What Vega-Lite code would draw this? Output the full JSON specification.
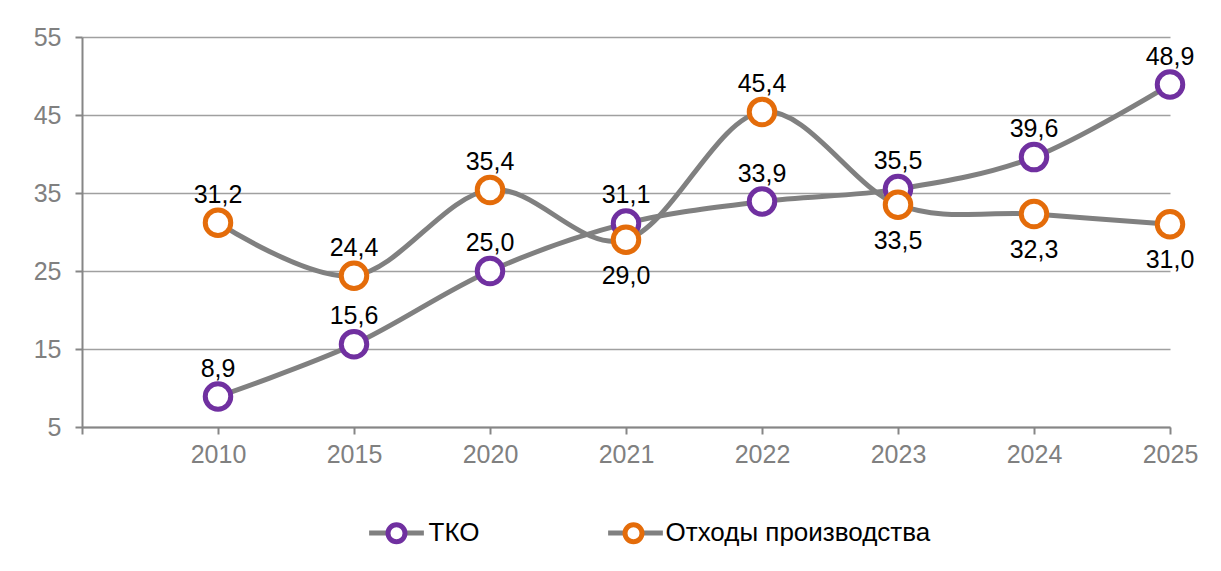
{
  "$schema": "https://vega.github.io/schema/vega-lite/v6.json",
  "width": 1088,
  "height": 390,
  "autosize": {"type": "none"},
  "padding": {"left": 82, "top": 37, "right": 51, "bottom": 144},
  "background": "white",
  "data": {
    "values": [
      {"year": "2010", "series": "ТКО", "value": 8.9},
      {"year": "2015", "series": "ТКО", "value": 15.6},
      {"year": "2020", "series": "ТКО", "value": 25.0},
      {"year": "2021", "series": "ТКО", "value": 31.1},
      {"year": "2022", "series": "ТКО", "value": 33.9},
      {"year": "2023", "series": "ТКО", "value": 35.5},
      {"year": "2024", "series": "ТКО", "value": 39.6},
      {"year": "2025", "series": "ТКО", "value": 48.9},
      {"year": "2010", "series": "Отходы производства", "value": 31.2},
      {"year": "2015", "series": "Отходы производства", "value": 24.4},
      {"year": "2020", "series": "Отходы производства", "value": 35.4},
      {"year": "2021", "series": "Отходы производства", "value": 29.0},
      {"year": "2022", "series": "Отходы производства", "value": 45.4},
      {"year": "2023", "series": "Отходы производства", "value": 33.5},
      {"year": "2024", "series": "Отходы производства", "value": 32.3},
      {"year": "2025", "series": "Отходы производства", "value": 31.0}
    ]
  },
  "encoding": {
    "x": {
      "field": "year",
      "type": "ordinal",
      "scale": {"type": "point", "domain": [" ", "2010", "2015", "2020", "2021", "2022", "2023", "2024", "2025"], "padding": 0},
      "axis": {
        "title": null,
        "labelAngle": 0,
        "grid": false,
        "domainColor": "#868686",
        "domainWidth": 2,
        "tickColor": "#868686",
        "tickWidth": 2,
        "tickSize": 7,
        "labelPadding": 8,
        "labelColor": "#808080",
        "labelFontSize": 25
      }
    },
    "y": {
      "field": "value",
      "type": "quantitative",
      "scale": {"domain": [5, 55], "nice": false, "zero": false},
      "axis": {
        "title": null,
        "values": [5, 15, 25, 35, 45, 55],
        "grid": true,
        "gridColor": "#a0a0a0",
        "gridWidth": 1.5,
        "domainColor": "#868686",
        "domainWidth": 2,
        "tickColor": "#868686",
        "tickWidth": 2,
        "tickSize": 7,
        "labelPadding": 14,
        "labelColor": "#808080",
        "labelFontSize": 25
      }
    }
  },
  "layer": [
    {
      "mark": {"type": "line", "interpolate": "cardinal", "color": "#808080", "strokeWidth": 5},
      "encoding": {
        "detail": {"field": "series"},
        "opacity": {
          "field": "series",
          "type": "nominal",
          "sort": "descending",
          "scale": {"range": [1, 1]},
          "legend": {
            "title": null,
            "orient": "none",
            "direction": "horizontal",
            "legendX": 284.5,
            "legendY": 466,
            "zindex": 1,
            "symbolType": "stroke",
            "symbolSize": 3000,
            "symbolStrokeWidth": 5,
            "symbolStrokeColor": "#808080",
            "labelOffset": 2,
            "columnPadding": 118,
            "labelFontSize": 26,
            "labelLimit": 0,
            "labelOpacity": 0
          }
        }
      }
    },
    {
      "mark": {"type": "point", "shape": "circle", "filled": true, "fill": "white", "strokeWidth": 5, "size": 650, "opacity": 1},
      "encoding": {
        "stroke": {
          "field": "series",
          "type": "nominal",
          "scale": {"domain": ["ТКО", "Отходы производства"], "range": ["#7030a0", "#e46c0a"]},
          "legend": {
            "title": null,
            "orient": "none",
            "direction": "horizontal",
            "legendX": 301.5,
            "legendY": 483,
            "zindex": 2,
            "symbolType": "circle",
            "symbolSize": 289,
            "symbolStrokeWidth": 5,
            "symbolFillColor": "white",
            "symbolOpacity": 1,
            "labelOffset": 19,
            "columnPadding": 135,
            "labelFontSize": 26,
            "labelLimit": 0,
            "labelColor": "black"
          }
        }
      }
    },
    {
      "transform": [{"filter": "!(datum.series == 'Отходы производства' && indexof(['2021', '2023', '2024', '2025'], datum.year) >= 0)"}],
      "mark": {"type": "text", "baseline": "alphabetic", "dy": -20, "fontSize": 25, "color": "black"},
      "encoding": {"text": {"field": "value", "type": "quantitative", "format": ".1f"}}
    },
    {
      "transform": [{"filter": "datum.series == 'Отходы производства' && indexof(['2021', '2023', '2024', '2025'], datum.year) >= 0"}],
      "mark": {"type": "text", "baseline": "alphabetic", "dy": 44, "fontSize": 25, "color": "black"},
      "encoding": {"text": {"field": "value", "type": "quantitative", "format": ".1f"}}
    }
  ],
  "config": {
    "font": "Liberation Sans",
    "view": {"stroke": null},
    "locale": {"number": {"decimal": ",", "thousands": " ", "grouping": [3], "currency": ["", " ₽"]}}
  }
}
